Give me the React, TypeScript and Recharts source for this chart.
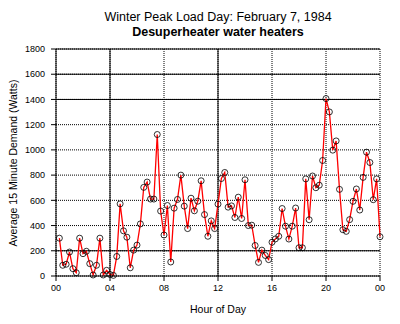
import { LineChart, Line, XAxis, YAxis, CartesianGrid, ReferenceLine } from "recharts"

// 15-minute demand readings, 00:15 through 24:00
const demandWatts = [
  300, 85, 93, 190, 58, 26, 300, 177, 196, 98, 8, 85, 300, 8, 45, 12,
  5, 155, 572, 358, 308, 65, 205, 245, 413, 703, 745, 610, 610, 1122, 515, 325,
  559, 111, 538, 607, 800, 554, 376, 617, 517, 593, 755, 487, 315, 437, 376, 570,
  773, 821, 546, 556, 464, 625, 456, 763, 400, 403, 242, 108, 205, 163, 130, 268,
  294, 315, 535, 395, 293, 395, 539, 224, 224, 770, 446, 793, 700, 720, 916, 1407,
  1301, 998, 1071, 687, 367, 354, 447, 592, 690, 523, 782, 982, 900, 605, 770, 311,
]

const hourLabels = ["00", "04", "08", "12", "16", "20", "00"]
const yTicks = [0, 200, 400, 600, 800, 1000, 1200, 1400, 1600, 1800]

const slotsPerLabel = 16

const data = demandWatts.map((w, i) => ({ slot: i + 1, watts: w }))
const xTicks = hourLabels.map((_, i) => i * slotsPerLabel)

// gridlines that show up solid in the original, the rest are dotted
const solidY = [200, 1400, 1600, 1800]
const solidX = [16, 48]

const font = "'Liberation Sans', Arial, sans-serif"

export default function App() {
  return (
    <div style={{ position: "absolute", left: 0, top: 0, width: 400, height: 324, background: "#fff", fontFamily: font }}>
      <div style={{ position: "absolute", left: 0, width: 436, top: 10, textAlign: "center", fontSize: 12.5, lineHeight: "15px" }}>
        Winter Peak Load Day: February 7, 1984
      </div>
      <div style={{ position: "absolute", left: 0, width: 436, top: 25, textAlign: "center", fontSize: 12.5, lineHeight: "15px", fontWeight: "bold" }}>
        Desuperheater water heaters
      </div>
      <div
        style={{
          position: "absolute", left: 13, top: 163, fontSize: 10.5, whiteSpace: "nowrap",
          transform: "translate(-50%, -50%) rotate(-90deg)",
        }}
      >
        Average 15 Minute Demand (Watts)
      </div>
      <div style={{ position: "absolute", left: 0, width: 436, top: 303, textAlign: "center", fontSize: 10.5 }}>
        Hour of Day
      </div>
      <LineChart width={400} height={324} data={data} margin={{ top: 49, right: 20, bottom: 18, left: 0 }}>
        <CartesianGrid stroke="#000" strokeDasharray="1 1" />
        {solidY.map((v) => (
          <ReferenceLine key={"y" + v} y={v} stroke="#000" />
        ))}
        {solidX.map((v) => (
          <ReferenceLine key={"x" + v} x={v} stroke="#000" />
        ))}
        <XAxis
          dataKey="slot"
          type="number"
          domain={[0, 96]}
          ticks={xTicks}
          tickFormatter={(v: number) => hourLabels[v / slotsPerLabel]}
          height={30}
          tickSize={5}
          tickMargin={4}
          stroke="#000"
          tick={{ fill: "#000", fontSize: 9, fontFamily: font }}
        />
        <YAxis
          domain={[0, 1800]}
          ticks={yTicks}
          width={56}
          tickSize={5}
          tickMargin={6}
          stroke="#000"
          tick={{ fill: "#000", fontSize: 9, fontFamily: font }}
        />
        <Line
          type="linear"
          dataKey="watts"
          stroke="#ff0000"
          strokeWidth={1.3}
          dot={{ r: 3, stroke: "#000", strokeWidth: 0.8, fill: "none" }}
          isAnimationActive={false}
        />
      </LineChart>
    </div>
  )
}
